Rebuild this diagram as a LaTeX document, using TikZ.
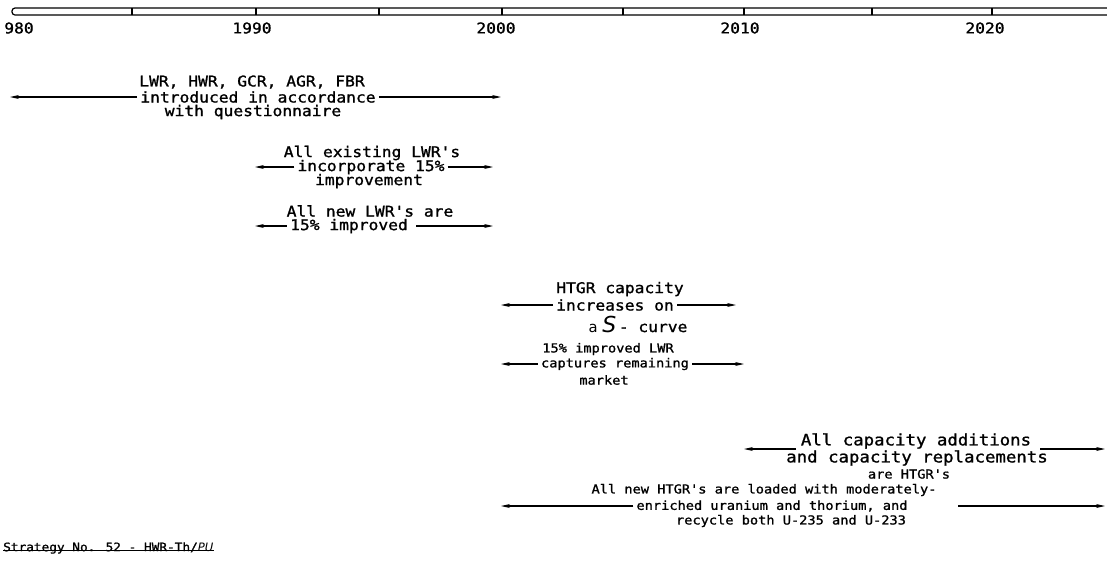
\documentclass[tikz,border=0pt]{standalone}
\usepackage{fontspec}
\newfontfamily\twb[FakeStretch=1.1,FakeBold=1.2]{DejaVu Sans Mono}
\newfontfamily\hw{DejaVu Sans}
\usetikzlibrary{arrows.meta}
\begin{document}
\begin{tikzpicture}[x=1pt,y=-1pt,
  txt/.style={font=\twb\fontsize{14.8}{14.8}\selectfont, inner sep=0pt, anchor=center},
  wide/.style={font=\twb\fontsize{15.8}{15.8}\selectfont, inner sep=0pt, anchor=center},
  elite/.style={font=\twb\fontsize{12.4}{12.4}\selectfont, inner sep=0pt, anchor=center},
  small/.style={font=\twb\fontsize{11.6}{11.6}\selectfont, inner sep=0pt},
  arr/.style={-{Stealth[length=9pt,width=4pt]}, line width=1.1pt},
  bar/.style={line width=1.2pt},
]
\useasboundingbox (0,0) rectangle (1107,563);
% timeline bar
\draw[bar, rounded corners=3pt] (1108,8) -- (12,8) -- (12,15) -- (1108,15);
\foreach \t/\xx in {a/132,b/256,c/379,d/502,e/623,f/744,g/872,h/992}{
  \coordinate (tk\t) at (\xx,8);
  \draw[bar] (tk\t) -- ++(0,7);
}
\coordinate (y1980) at (10,0);
\coordinate (y2000) at (501,0);
\coordinate (y2010) at (744,0);
\coordinate (yend) at (1105,0);
\coordinate (y1990) at (255,0);
% year labels
\node[txt] (l1980) at (19,28) {980};
\node[txt] (l1990) at (252,28) {1990};
\node[txt] (l2000) at (496,28) {2000};
\node[txt] (l2010) at (740,28) {2010};
\node[txt] (l2020) at (985,28) {2020};
% block 1
\node[txt] (a1) at (252,82) {LWR, HWR, GCR, AGR, FBR};
\node[txt] (a2) at (258,97) {introduced in accordance};
\node[txt] (a3) at (253,112) {with questionnaire};
\draw[arr] ([xshift=-3pt]a2.west) -- (a2.west -| y1980);
\draw[arr] ([xshift=3pt]a2.east) -- (a2.east -| y2000);
% block 2
\node[txt] (b1) at (372,153) {All existing LWR's};
\node[txt] (b2) at (371,167) {incorporate 15\%};
\node[txt] (b3) at (369,181) {improvement};
\draw[arr] ([xshift=-3pt]b2.west) -- (b2.west -| y1990);
\draw[arr] ([xshift=3pt]b2.east) -- ([xshift=-8pt]b2.east -| y2000);
% block 3
\node[txt] (c1) at (370,211) {All new LWR's are};
\node[txt] (c2) at (349,226) {15\% improved};
\draw[arr] ([xshift=-3pt]c2.west) -- (c2.west -| y1990);
\draw[arr] ([xshift=8pt]c2.east) -- ([xshift=-8pt]c2.east -| y2000);
% block 4
\node[txt] (d1) at (620,289) {HTGR capacity};
\node[txt] (d2) at (615,305) {increases on};
\node[txt] (d3) at (638,324) {{\hw a \fontsize{22}{22}\selectfont\itshape S}\,- curve};
\draw[arr] ([xshift=-3pt]d2.west) -- (d2.west -| y2000);
\draw[arr] ([xshift=3pt]d2.east) -- ([xshift=-8pt]d2.east -| y2010);
% block 5
\node[elite] (e1) at (608,349) {15\% improved LWR};
\node[elite] (e2) at (615,364) {captures remaining};
\node[elite] (e3) at (604,380) {market};
\draw[arr] ([xshift=-3pt]e2.west) -- (e2.west -| y2000);
\draw[arr] ([xshift=3pt]e2.east) -- (e2.east -| y2010);
% block 6
\node[wide] (f1) at (916,441) {All capacity additions};
\node[wide] (f2) at (917,458) {and capacity replacements};
\node[elite] (f3) at (909,474) {are HTGR's};
\coordinate (f1l) at (796,449);
\coordinate (f1r) at (1040,449);
\draw[arr] (f1l) -- (f1l -| y2010);
\draw[arr] (f1r) -- (f1r -| yend);
% block 7
\node[elite] (g1) at (764,490) {All new HTGR's are loaded with moderately-};
\node[elite] (g2) at (772,506) {enriched uranium and thorium, and};
\node[elite] (g3) at (791,521) {recycle both U-235 and U-233};
\coordinate (g2r) at (958,506);
\draw[arr] ([xshift=-3pt]g2.west) -- (g2.west -| y2000);
\draw[arr] (g2r) -- (g2r -| yend);
% caption
\node[small, anchor=west] (s) at (3,548) {Strategy No. 52 - HWR-Th/{\hw\itshape PU}};
\draw[line width=1pt] ([yshift=3pt]s.south west) -- ([yshift=3pt]s.south east);
\end{tikzpicture}
\end{document}
